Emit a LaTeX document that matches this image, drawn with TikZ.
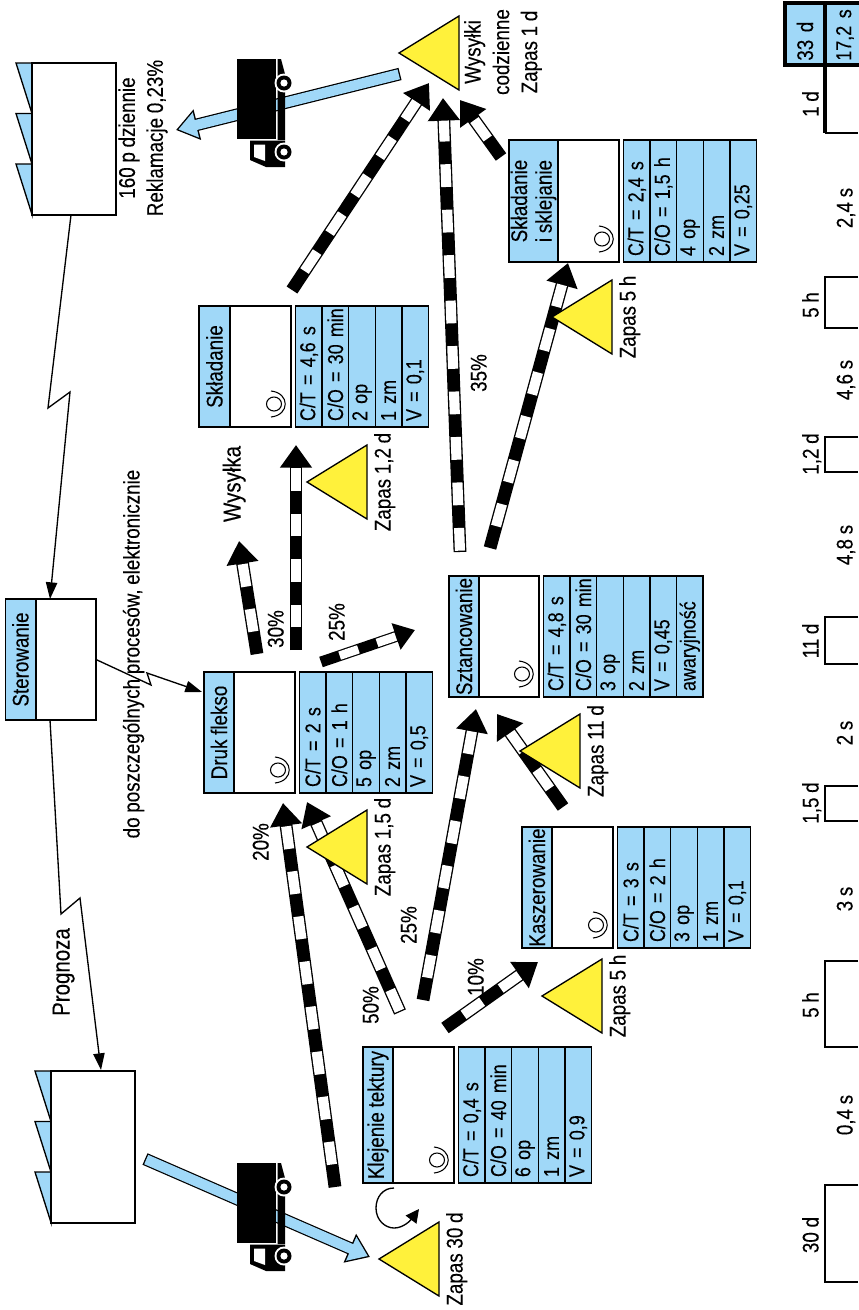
\documentclass[tikz,border=0pt]{standalone}
\usepackage{fontspec}
\usetikzlibrary{arrows.meta,calc}
\setmainfont[FakeStretch=0.83,WordSpace=0.9,FakeBold=0.2]{Liberation Sans}
\definecolor{vsmblue}{RGB}{160,216,248}
\definecolor{vsmyellow}{RGB}{255,241,59}
\newcommand{\vsmfont}{\fontsize{17}{18.5}\selectfont}
\newcommand{\vsmrow}{\fontsize{16.2}{18.5}\selectfont}
\newcommand{\vsmbig}{\fontsize{18.5}{20}\selectfont}
\newcommand{\rowstrut}{\rule[-0.3pt]{0pt}{11.6pt}}
\tikzset{
  every node/.style={font=\vsmfont, outer sep=0pt},
  txtlabel/.style={rotate=90, inner sep=0pt, text height=11.6pt, text depth=0.3pt},
  txtblock/.style={rotate=90, inner sep=0pt, align=center},
  titlebox/.style={rotate=90, draw, line width=1pt, fill=vsmblue, inner sep=0pt, align=center},
  bodybox/.style={draw, line width=1pt, fill=white, inner sep=0pt},
  rowbox/.style={
    rotate=90, draw, line width=1pt, fill=vsmblue, inner xsep=4.5pt, inner ysep=0pt,
    align=left, minimum height=19.95pt, font=\vsmrow
  },
  timecell/.style={rotate=90, draw, line width=2.4pt, fill=vsmblue, inner sep=0pt, align=left},
  zapas/.style={draw, line width=1pt, fill=vsmyellow},
  infoarrow/.style={line width=1pt, -{Triangle[length=12.5pt,width=8.5pt]}},
  pulseline/.style={line width=1pt},
  shiparrow/.style={
    line width=9.4pt, -{Triangle[length=16.5pt,width=22.5pt]},
    postaction={draw=vsmblue, line width=7.6pt, -{Triangle[length=13.6pt,width=18.6pt]},
      shorten >=1.8pt, shorten <=1pt}
  },
  pusharrow/.style={
    line width=9.6pt, -{Triangle[length=17pt,width=23pt]},
    postaction={draw=white, line width=7.6pt, -, shorten >=17pt,
      dash pattern=on 17.06pt off 17.06pt, dash phase=17.06pt}
  },
  pushwhite/.style={
    line width=9.6pt, -{Triangle[length=17pt,width=23pt]},
    postaction={draw=white, line width=7.6pt, -, shorten >=17pt, shorten <=1pt,
      dash pattern=on 17.06pt off 17.06pt}
  },
  pushsmall/.style={
    line width=8.2pt, -{Triangle[length=15pt,width=20pt]},
    postaction={draw=white, line width=6.4pt, -, shorten >=15pt,
      dash pattern=on 14.8pt off 14.8pt, dash phase=14.8pt}
  },
}

\begin{document}
\begin{tikzpicture}[x=0.75pt, y=-0.75pt]
  \useasboundingbox (0,0) rectangle (858,1310);

  % factories
  \foreach \fname/\fx/\fy in {customer/32/63, supplier/51/1071} {
    \foreach \k in {0,1,2}
      \draw[line width=1pt, fill=vsmblue]
        (\fx-16,\fy+\k*50.5) -- (\fx,\fy+\k*50.5) -- (\fx,\fy+\k*50.5+50.5) -- cycle;
    \node[bodybox, minimum width=63pt, minimum height=114pt]
      (\fname) at (\fx+42,\fy+76) {};
  }

  % control box
  \node[titlebox, minimum width=90.75pt, minimum height=23pt] (ster-title) at (20.5,659.5)
    {\rowstrut Sterowanie};
  \node[bodybox, minimum width=45pt, minimum height=90.75pt] (ster-body) at (66,659.5) {};

  % processes
  \foreach \nm/\xa/\xb/\xc/\ya/\yb/\prname/\rows in {
    klej/363/393/454/1047/1183/{Klejenie tektury}/{{C/T = 0,4 s},{C/O = 40 min},{6 op},{1 zm},{V = 0,9}},
    druk/204/234/295/672/793/{Druk flekso}/{{C/T = 2 s},{C/O = 1 h},{5 op},{2 zm},{V = 0,5}},
    szt/449/479/539/576/697/{Sztancowanie}/{{C/T = 4,8 s},{C/O = 30 min},{3 op},{2 zm},{V = 0,45},{awaryjność}},
    kasz/522/552/613/827/948/{Kaszerowanie}/{{C/T = 3 s},{C/O = 2 h},{3 op},{1 zm},{V = 0,1}},
    skl/199/230/291/306/427/{Składanie}/{{C/T = 4,6 s},{C/O = 30 min},{2 op},{1 zm},{V = 0,1}},
    sklej/509/558/619/140/262/{Składanie\\i sklejanie}/{{C/T = 2,4 s},{C/O = 1,5 h},{4 op},{2 zm},{V = 0,25}}%
  } {
    \node[titlebox, minimum width=0.75pt*(\yb-\ya), minimum height=0.75pt*(\xb-\xa)]
      (\nm-title) at ({(\xa+\xb)/2},{(\ya+\yb)/2}) {\rowstrut\prname};
    \node[bodybox, minimum width=0.75pt*(\xc-\xb), minimum height=0.75pt*(\yb-\ya)]
      (\nm-body) at ({(\xb+\xc)/2},{(\ya+\yb)/2}) {};
    \foreach \rowtext [count=\i] in \rows
      \node[rowbox, minimum width=0.75pt*(\yb-\ya), text width=0.75pt*(\yb-\ya)-9pt]
        (\nm-row\i) at ({\xc+4.5+26.6*(\i-0.5)},{(\ya+\yb)/2}) {\mbox{\rowstrut\rowtext}};
    % operator mark
    \draw[line width=0.8pt] (\xc-17,\yb-23) ellipse (7.5 and 7);
    \draw[line width=0.8pt] (\xc-20,\yb-36) .. controls (\xc-1,\yb-34) and (\xc-1,\yb-12) .. (\xc-20,\yb-10);
  }

  % information flow
  \draw[infoarrow] ($(customer.south)+(-3,0)$) -- (48,408) -- (70,392) -- ($(ster-body.north west)+(14,0)$);
  \draw[infoarrow] ($(ster-body.south west)+(14,0)$) -- (61,914) -- (80,898) -- ($(supplier.north)+(8,-1)$);
  \draw[infoarrow] (ster-body.east) -- (151,685) -- (147,673) -- ($(druk-title.north east)+(-2,20)$);

  % deliveries
  \coordinate (shipFrom) at (400,74);
  \coordinate (shipTo) at (176,130);
  \coordinate (recvFrom) at (145,1159);
  \coordinate (recvTo) at (370,1257);
  \draw[shiparrow] (shipFrom) -- (shipTo);
  \draw[shiparrow] (recvFrom) -- (recvTo);

  % trucks
  \foreach \truckdy in {0,1104} {
    \begin{scope}[shift={(0,\truckdy)}]
      \fill (237,59) rectangle (276,139);
      \fill (277.5,59) -- (281,59) -- (285,74) -- (285,140) -- (277.5,140) -- cycle;
      \fill (250,140.5) -- (285,140.5) -- (285,167) -- (266,167) -- (250,160) -- cycle;
      \fill[white] (254,144.5) -- (265,144.5) -- (265,161) -- (254,157) -- cycle;
      \foreach \wy in {83,152} {
        \fill[white] (284,\wy) circle (9.5);
        \fill (284,\wy) circle (7.5);
        \fill[white] (284,\wy) circle (3.6);
      }
    \end{scope}
  }

  % material flow
  \foreach \pname/\px/\py in {
    sklOut/292/290, wysIn/429/83,
    sztUp/460/552, wysInB/443/98,
    sklejOut/501/157, wysInC/460/100,
    sztOut/490/548, sklejIn/568/263,
    drukUp/296/650, sklIn/296/445,
    drukWys/257/654, wysylka/239/541,
    drukOut/321/662, sztInA/415/630,
    klejA/335/1187, drukInA/283/803,
    klejB/400/1012, drukInB/307/802,
    klejC/423/1000, sztInB/476/709,
    klejD/445/1028, kaszIn/538/962,
    kaszOut/563/807, sztInC/497/714%
  } { \coordinate (\pname) at (\px,\py); }
  \draw[pusharrow] (sklOut) -- (wysIn);
  \draw[pushwhite] (sztUp) -- (wysInB);
  \draw[pusharrow] (sklejOut) -- (wysInC);
  \draw[pusharrow] (sztOut) -- (sklejIn);
  \draw[pusharrow] (drukUp) -- (sklIn);
  \draw[pusharrow] (drukWys) -- (wysylka);
  \draw[pushsmall] (drukOut) -- (sztInA);
  \draw[pusharrow] (klejA) -- (drukInA);
  \draw[pushwhite] (klejB) -- (drukInB);
  \draw[pusharrow] (klejC) -- (sztInB);
  \draw[pusharrow] (klejD) -- (kaszIn);
  \draw[pusharrow] (kaszOut) -- (sztInC);

  % stock triangles
  \foreach \zname/\zx/\zy/\ztext in {
    zapA/379/1259/{Zapas 30 d},
    zapB/542/996/{Zapas 5 h},
    zapC/307/847/{Zapas 1,5 d},
    zapD/520/751/{Zapas 11 d},
    zapE/307/482/{Zapas 1,2 d},
    zapF/552/317/{Zapas 5 h}%
  } {
    \draw[zapas] (\zx,\zy) -- (\zx+60,\zy-37) -- (\zx+60,\zy+37) -- cycle;
    \node[txtlabel] (\zname) at (\zx+76,\zy) {\ztext};
  }
  \draw[zapas] (399,53) -- (459,16) -- (459,90) -- cycle;
  \node[txtblock] (wysylki) at (503,52) {Wysyłki\\[3pt]codzienne\\[2.5pt]Zapas 1 d};

  % rework loop
  \coordinate (loopFrom) at (394,1188);
  \coordinate (loopTo) at (419,1209);
  \draw[line width=1pt, -{Triangle[length=10pt,width=10pt]}] (loopFrom)
    .. controls (383,1188) and (376,1197) .. (376,1208)
    .. controls (376,1220) and (385,1228) .. (394,1228)
    .. controls (403,1228) and (410,1221) .. (loopTo);

  % labels
  \node[txtblock] (custlabel) at (143,138) {160 p dziennie\\[2.5pt]Reklamacje 0,23\%};
  \foreach \lname/\lx/\ly/\ltext in {
    wysylkaL/233/484/{\vsmbig Wysyłka},
    prognoza/62/972/{\vsmbig Prognoza},
    elektr/132/654/{do poszczególnych procesów, elektronicznie},
    pctA/261/842/{20\%},
    pctB/371/1005/{50\%},
    pctC/409/925/{25\%},
    pctD/476/977/{10\%},
    pctE/337/622/{25\%},
    pctF/276/629/{30\%},
    pctG/479/373/{35\%}%
  } { \node[txtlabel] (\lname) at (\lx,\ly) {\ltext}; }

  % timeline
  \node[timecell, minimum width=46.5pt, minimum height=30pt, text width=40pt] (totalD) at (805,34)
    {\mbox{\rowstrut 33 d}};
  \node[timecell, minimum width=46.5pt, minimum height=30pt, text width=40pt] (totalS) at (845,34)
    {\mbox{\rowstrut\vsmrow 17,2 s}};
  \draw[line width=2.4pt] (825,65) -- (825,133);
  \draw[pulseline] (825,133) -- (858,133);
  \foreach \tya/\tyb in {277/328, 437/472, 617/664, 786/821, 961/1047, 1185/1282}
    \draw[pulseline] (858,\tya) -- (825,\tya) -- (825,\tyb) -- (858,\tyb);
  \foreach \tname/\tx/\ty/\ttext in {
    tA/811/104/{1 d}, tB/811/305/{5 h}, tC/811/454/{1,2 d}, tD/811/641/{11 d},
    tE/811/803/{1,5 d}, tF/811/1005/{5 h}, tG/811/1235/{30 d},
    sA/845/208/{2,4 s}, sB/845/380/{4,6 s}, sC/845/545/{4,8 s},
    sD/845/733/{2 s}, sE/845/899/{3 s}, sF/845/1115/{0,4 s}%
  } { \node[txtlabel] (\tname) at (\tx,\ty) {\ttext}; }
\end{tikzpicture}
\end{document}
